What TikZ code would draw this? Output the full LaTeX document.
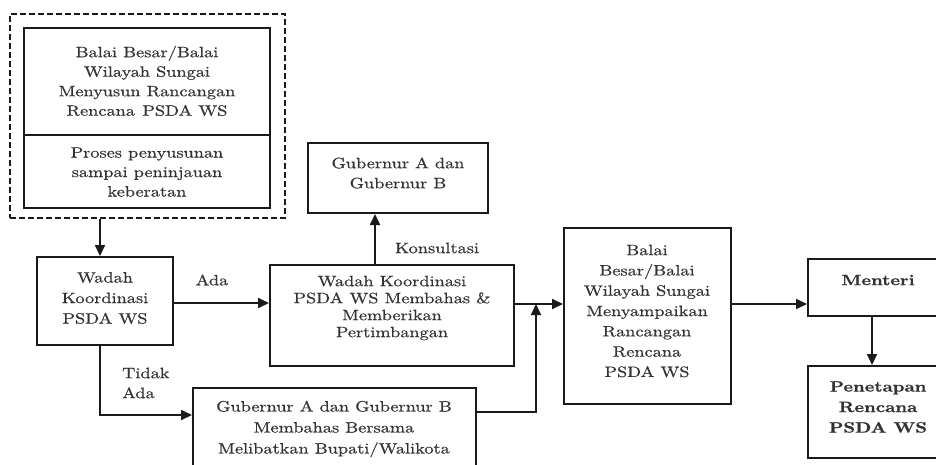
\documentclass[tikz,border=0pt]{standalone}
\usepackage{fontspec}
\setmainfont{lmroman10-regular.otf}[FakeStretch=1.22, FakeBold=0.6, BoldFont=lmroman10-bold.otf, BoldFeatures={FakeBold=0.8}]
\usetikzlibrary{arrows.meta}
\definecolor{ink}{HTML}{1A1A1A}
\definecolor{txtc}{HTML}{333333}
\tikzset{
  box/.style={draw=ink, line width=2pt, rectangle, inner sep=0pt},
  dashbox/.style={draw=ink, line width=2.2pt, dash pattern=on 6pt off 3pt, rectangle, inner sep=0pt},
  arr/.style={draw=ink, line width=1.8pt, -{Triangle[length=11pt,width=10pt]}},
  txt/.style={text=txtc, align=center, inner sep=0pt, font=\fontsize{15}{19.5}\selectfont},
}
\begin{document}
\begin{tikzpicture}[x=1pt,y=-1pt]
\useasboundingbox (0,0) rectangle (936,464);
\clip (0,0) rectangle (936,464);

% boxes
\node[dashbox, minimum width=275pt, minimum height=204pt] (outer) at (147.5,116) {};
\node[box, minimum width=246pt, minimum height=107pt] (bbtop) at (147,81.5) {};
\node[box, minimum width=246pt, minimum height=73pt] (bbbot) at (147,171.5) {};
\node[box, minimum width=136pt, minimum height=88pt] (wadah) at (105,301) {};
\node[box, minimum width=244pt, minimum height=101pt] (mid) at (392,315.5) {};
\node[box, minimum width=180pt, minimum height=70pt] (gubtop) at (398,178) {};
\node[box, minimum width=283pt, minimum height=84pt] (gubbot) at (334.5,430) {};
\node[box, minimum width=167pt, minimum height=176pt] (balai) at (647.5,316) {};
\node[box, minimum width=142pt, minimum height=57pt] (menteri) at (879,287.5) {};
\node[box, minimum width=142pt, minimum height=92pt] (penetapan) at (879,412) {};

% texts
\node[txt] (t1) at (147,81) {Balai Besar/Balai\\Wilayah Sungai\\Menyusun Rancangan\\Rencana\enspace PSDA WS};
\node[txt] (t2) at (147,172) {Proses penyusunan\\sampai peninjauan\\keberatan};
\node[txt, font=\fontsize{15}{20.5}\selectfont] (t3) at (105,298) {Wadah\\Koordinasi\\PSDA WS};
\node[txt, font=\fontsize{15}{17}\selectfont] (t4) at (392,308) {Wadah Koordinasi\\PSDA WS Membahas \&\\Memberikan\\Pertimbangan};
\node[txt, font=\fontsize{15}{20}\selectfont] (t5) at (398,173) {Gubernur A dan\\Gubernur B};
\node[txt, font=\fontsize{15}{21}\selectfont] (t6) at (334,429) {Gubernur A dan Gubernur B\\Membahas Bersama\\Melibatkan Bupati/Walikota};
\node[txt, font=\fontsize{15}{20.3}\selectfont] (t7) at (647,311) {Balai\\Besar/Balai\\Wilayah Sungai\\Menyampaikan\\Rancangan\\Rencana\\PSDA WS};
\node[txt, font=\fontsize{15}{20}\bfseries] (t8) at (878,280) {Menteri};
\node[txt, font=\fontsize{15}{20.5}\bfseries] (t9) at (878,407) {Penetapan\\Rencana\\PSDA WS};

% connector labels
\node[txt] (lada) at (212,280) {Ada};
\node[txt] (lkons) at (437,248) {Konsultasi};
\node[txt, align=left, anchor=west, font=\fontsize{15}{20}\selectfont] (ltidak) at (122,383) {Tidak\\Ada};

% reference coordinates for connector lines
\coordinate (xa) at (100,0);
\coordinate (xk) at (375,0);
\coordinate (xj) at (536,0);
\coordinate (xm) at (872,0);
\coordinate (ya) at (0,303);
\coordinate (yb) at (0,304);
\coordinate (yc) at (0,412);
\coordinate (yt) at (0,415);

% connectors
\draw[arr] (outer.south -| xa) -- (wadah.north -| xa);
\draw[arr] (wadah.east |- ya) -- (mid.west |- ya);
\draw[arr] (wadah.south -| xa) |- (gubbot.west |- yt);
\draw[arr] (mid.north -| xk) -- (gubtop.south -| xk);
\draw[arr] (mid.east |- yb) -- (balai.west |- yb);
\draw[arr] (gubbot.east |- yc) -| (xj |- yb);
\draw[arr] (balai.east |- yb) -- (menteri.west |- yb);
\draw[arr] (menteri.south -| xm) -- (penetapan.north -| xm);
\end{tikzpicture}
\end{document}
